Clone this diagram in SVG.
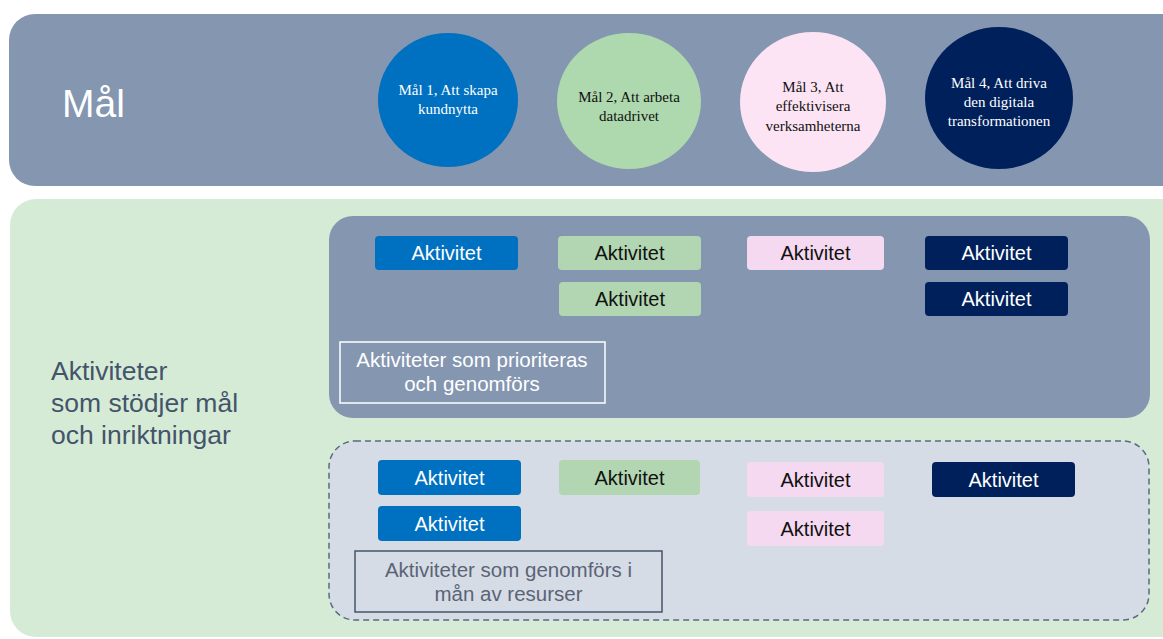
<svg xmlns="http://www.w3.org/2000/svg" width="1163" height="639" viewBox="0 0 1163 639">
<style>
.sans{font-family:"Liberation Sans",Arial,sans-serif}
.serif{font-family:"Liberation Serif","Times New Roman",serif;font-size:15px;text-anchor:middle}
.act{font-family:"Liberation Sans",Arial,sans-serif;font-size:20px;text-anchor:middle}
.b{fill:#0070c0}.g{fill:#b2d6b2}.p{fill:#f5d9f0}.n{fill:#00205b}
.w{fill:#ffffff}.k{fill:#111111}
</style>
<rect width="1163" height="639" fill="#ffffff"/>
<g id="mal-panel">
<rect x="9" y="14" width="1180" height="172" rx="26" fill="#8496b0"/>
<text x="62" y="117" class="sans" font-size="39" fill="#ffffff">Mål</text>
</g>
<g id="mal1"><ellipse cx="448" cy="100" rx="70" ry="67" fill="#0070c0"/>
<text class="serif" fill="#ffffff"><tspan x="448" y="95">Mål 1, Att skapa</tspan><tspan x="448" y="114">kundnytta</tspan></text></g>
<g id="mal2"><ellipse cx="629" cy="101" rx="72" ry="68" fill="#aed8ad"/>
<text class="serif" fill="#111111"><tspan x="629" y="102">Mål 2, Att arbeta</tspan><tspan x="629" y="121">datadrivet</tspan></text></g>
<g id="mal3"><ellipse cx="813" cy="102" rx="73" ry="70" fill="#fce4f4"/>
<text class="serif" fill="#111111"><tspan x="813" y="92">Mål 3, Att</tspan><tspan x="813" y="111">effektivisera</tspan><tspan x="813" y="131">verksamheterna</tspan></text></g>
<g id="mal4"><ellipse cx="999" cy="98" rx="74" ry="71" fill="#00205b"/>
<text class="serif" fill="#ffffff"><tspan x="999" y="88">Mål 4, Att driva</tspan><tspan x="999" y="107">den digitala</tspan><tspan x="999" y="126">transformationen</tspan></text></g>
<g id="akt-panel">
<rect x="10" y="199" width="1180" height="438" rx="26" fill="#d5ebd6"/>
<text class="sans" font-size="26.5" fill="#44546a"><tspan x="51" y="380">Aktiviteter</tspan><tspan x="51" y="412">som stödjer mål</tspan><tspan x="51" y="444">och inriktningar</tspan></text>
</g>
<g id="prio-panel">
<rect x="329" y="216" width="821" height="202" rx="24" fill="#8496b0"/>
<rect x="340" y="342" width="265" height="61" fill="none" stroke="#ffffff" stroke-width="1.5"/>
<text class="sans" font-size="20.5" fill="#ffffff" text-anchor="middle"><tspan x="472" y="367">Aktiviteter som prioriteras</tspan><tspan x="472" y="391">och genomförs</tspan></text>
</g>
<g id="p1"><rect x="375" y="236" width="143" height="34" rx="4" class="b"/><text x="446.5" y="260" class="act w">Aktivitet</text></g>
<g id="p2"><rect x="558" y="236" width="143" height="34" rx="4" class="g"/><text x="629.5" y="260" class="act k">Aktivitet</text></g>
<g id="p3"><rect x="747" y="236" width="137" height="34" rx="4" class="p"/><text x="815.5" y="260" class="act k">Aktivitet</text></g>
<g id="p4"><rect x="925" y="236" width="143" height="34" rx="4" class="n"/><text x="996.5" y="260" class="act w">Aktivitet</text></g>
<g id="p5"><rect x="559" y="282" width="142" height="34" rx="4" class="g"/><text x="630" y="306" class="act k">Aktivitet</text></g>
<g id="p6"><rect x="925" y="282" width="143" height="34" rx="4" class="n"/><text x="996.5" y="306" class="act w">Aktivitet</text></g>
<g id="mån-panel">
<rect x="329" y="441" width="820" height="179" rx="26" fill="#d6dce5" stroke="#5a6a80" stroke-width="1.5" stroke-dasharray="6 4"/>
<rect x="355" y="551" width="307" height="61" fill="none" stroke="#44546a" stroke-width="1.5"/>
<text class="sans" font-size="20.5" fill="#5a6477" text-anchor="middle"><tspan x="508.5" y="577">Aktiviteter som genomförs i</tspan><tspan x="508.5" y="601">mån av resurser</tspan></text>
</g>
<g id="m1"><rect x="378" y="460" width="143" height="35" rx="4" class="b"/><text x="449.5" y="485" class="act w">Aktivitet</text></g>
<g id="m2"><rect x="378" y="506" width="143" height="35" rx="4" class="b"/><text x="449.5" y="531" class="act w">Aktivitet</text></g>
<g id="m3"><rect x="559" y="460" width="141" height="35" rx="4" class="g"/><text x="629.5" y="485" class="act k">Aktivitet</text></g>
<g id="m4"><rect x="747" y="462" width="137" height="35" rx="4" class="p"/><text x="815.5" y="487" class="act k">Aktivitet</text></g>
<g id="m5"><rect x="747" y="511" width="137" height="35" rx="4" class="p"/><text x="815.5" y="536" class="act k">Aktivitet</text></g>
<g id="m6"><rect x="932" y="462" width="143" height="35" rx="4" class="n"/><text x="1003.5" y="487" class="act w">Aktivitet</text></g>
<g id="connectors"/>
</svg>
